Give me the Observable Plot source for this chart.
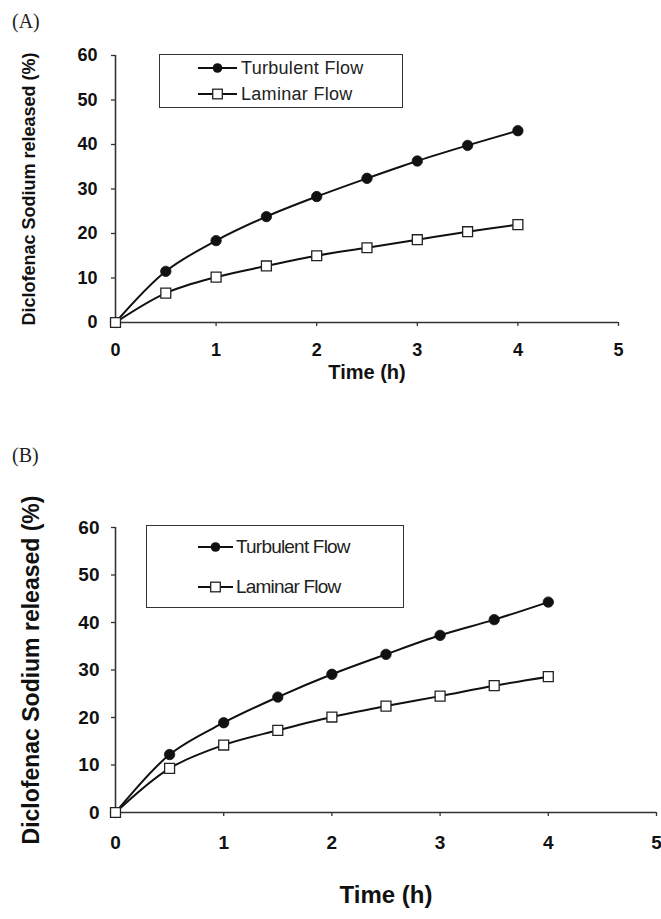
<!DOCTYPE html>
<html>
<head>
<meta charset="utf-8">
<script src="https://cdn.jsdelivr.net/npm/d3@7"></script>
<script src="https://cdn.jsdelivr.net/npm/@observablehq/plot@0.6"></script>
<style>
  html, body { margin: 0; padding: 0; background: #fff; }
  #root { position: relative; width: 661px; height: 919px; overflow: hidden; background: #fff; }
  .panel { position: absolute; left: 0; width: 661px; }
  .plabel { position: absolute; font-family: "Liberation Serif", "Times New Roman", serif; font-size: 20px; color: #222; line-height: 1; }
  .legend { position: absolute; border: 1.5px solid #333; box-sizing: border-box; background: #fff; }
  .entry { position: absolute; display: flex; align-items: center; white-space: nowrap; color: #222; }
  .entry svg { overflow: visible; }
</style>
</head>
<body>
<div id="root"></div>
<script>
// ---------- data ----------
const time = [0, 0.5, 1, 1.5, 2, 2.5, 3, 3.5, 4];
const seriesNames = ["Turbulent Flow", "Laminar Flow"];
const turbulentA = [0, 11.5, 18.4, 23.8, 28.3, 32.4, 36.3, 39.8, 43.1];
const laminarA   = [0, 6.6, 10.2, 12.7, 15.0, 16.8, 18.6, 20.4, 22.0];
const turbulentB = [0, 12.2, 18.9, 24.3, 29.1, 33.3, 37.3, 40.6, 44.3];
const laminarB   = [0, 9.3, 14.2, 17.3, 20.1, 22.4, 24.5, 26.7, 28.6];
const xTicks = [0, 1, 2, 3, 4, 5];
const yTicks = [0, 10, 20, 30, 40, 50, 60];
const xLabel = "Time (h)";
const yLabel = "Diclofenac Sodium released (%)";
const panelLabels = ["(A)", "(B)"];

const root = document.getElementById("root");

function rows(vals) { return time.map((t, i) => ({t, v: vals[i]})); }

function makePanel(cfg) {
  const turb = rows(cfg.turb), lam = rows(cfg.lam);
  const tickFont = cfg.tickFont;
  const chart = Plot.plot({
    width: 661,
    height: cfg.height,
    marginTop: cfg.mt, marginBottom: cfg.mb, marginLeft: 115, marginRight: cfg.mr,
    style: {fontFamily: tickFont, background: "#fff", color: "#111", overflow: "visible"},
    x: {domain: [0, 5], ticks: xTicks, label: null},
    y: {domain: [0, 60], ticks: yTicks, label: null},
    marks: [
      Plot.axisX({ticks: xTicks, tickSize: 4, tickPadding: cfg.xPad, fontSize: cfg.tickSize, fontWeight: "bold", stroke: "#333", strokeWidth: 1.3, label: null, tickFormat: d => d}),
      Plot.axisY({ticks: yTicks, tickSize: 4, tickPadding: cfg.yPad, fontSize: cfg.tickSize, fontWeight: "bold", stroke: "#333", strokeWidth: 1.3, label: null, tickFormat: d => d}),
      Plot.ruleY([0], {stroke: "#333", strokeWidth: 1.6}),
      Plot.ruleX([0], {stroke: "#333", strokeWidth: 1.6}),
      Plot.line(turb, {x: "t", y: "v", curve: "catmull-rom", stroke: "#111", strokeWidth: 2}),
      Plot.line(lam, {x: "t", y: "v", curve: "catmull-rom", stroke: "#111", strokeWidth: 2}),
      Plot.dot(turb, {x: "t", y: "v", r: 5.2, fill: "#111", stroke: "#111", strokeWidth: 0.8}),
      Plot.dot(lam, {x: "t", y: "v", symbol: "square", r: 5.6, fill: "#fff", stroke: "#222", strokeWidth: 1.3}),
      Plot.text([xLabel], {frameAnchor: "bottom", dy: cfg.xTitleDy, fontSize: cfg.xTitleSize, fontWeight: "bold", fill: "#111", fontFamily: tickFont}),
      Plot.text([yLabel], {frameAnchor: "left", textAnchor: "middle", rotate: -90, dx: cfg.yTitleDx, fontSize: cfg.yTitleSize, fontWeight: "bold", fill: "#111", fontFamily: tickFont})
    ]
  });
  const panel = document.createElement("div");
  panel.className = "panel";
  panel.style.top = cfg.top + "px";
  panel.style.height = cfg.height + "px";
  panel.appendChild(chart);

  const pl = document.createElement("div");
  pl.className = "plabel";
  pl.textContent = cfg.label;
  pl.style.left = "12px";
  pl.style.top = cfg.labelTop + "px";
  panel.appendChild(pl);

  // legend
  const lg = document.createElement("div");
  lg.className = "legend";
  Object.assign(lg.style, {left: cfg.lg.x + "px", top: cfg.lg.y + "px", width: cfg.lg.w + "px", height: cfg.lg.h + "px"});
  seriesNames.forEach((name, i) => {
    const e = document.createElement("div");
    e.className = "entry";
    Object.assign(e.style, {left: cfg.lg.symX + "px", top: (cfg.lg.rows[i] - 12) + "px", height: "24px",
      fontFamily: cfg.lg.font, fontSize: cfg.lg.size + "px", letterSpacing: cfg.lg.ls + "px"});
    const w = cfg.lg.symW;
    const sym = i === 0
      ? `<circle cx="${w/2}" cy="12" r="4.8" fill="#111"/>`
      : `<rect x="${w/2-4.8}" y="7.2" width="9.6" height="9.6" fill="#fff" stroke="#222" stroke-width="1.3"/>`;
    e.innerHTML = `<svg width="${w}" height="24"><line x1="0" x2="${w}" y1="12" y2="12" stroke="#111" stroke-width="1.8"/>${sym}</svg><span style="margin-left:${cfg.lg.gap}px">${name}</span>`;
    lg.appendChild(e);
  });
  panel.appendChild(lg);
  root.appendChild(panel);
}

makePanel({
  top: 0, height: 420, mt: 55, mb: 98, mr: 43,
  turb: turbulentA, lam: laminarA,
  tickFont: "'Liberation Sans', Arial, sans-serif", tickSize: 18, xPad: 17, yPad: 14,
  xTitleDy: 56, xTitleSize: 20, yTitleDx: -86, yTitleSize: 18,
  label: panelLabels[0], labelTop: 11,
  lg: {x: 159, y: 54, w: 244, h: 54, symX: 38, symW: 39, gap: 4, rows: [13, 39],
       font: "'Liberation Sans', Arial, sans-serif", size: 18, ls: 0.3}
});

makePanel({
  top: 430, height: 489, mt: 97, mb: 107, mr: 5,
  turb: turbulentB, lam: laminarB,
  tickFont: "'Liberation Sans', Arial, sans-serif", tickSize: 19, xPad: 19, yPad: 12,
  xTitleDy: 90, xTitleSize: 24, yTitleDx: -84, yTitleSize: 23,
  label: panelLabels[1], labelTop: 15,
  lg: {x: 146, y: 95, w: 258, h: 83, symX: 51, symW: 35, gap: 3, rows: [21, 61],
       font: "'Liberation Sans', Arial, sans-serif", size: 19, ls: -0.8}
});
</script>
</body>
</html>
